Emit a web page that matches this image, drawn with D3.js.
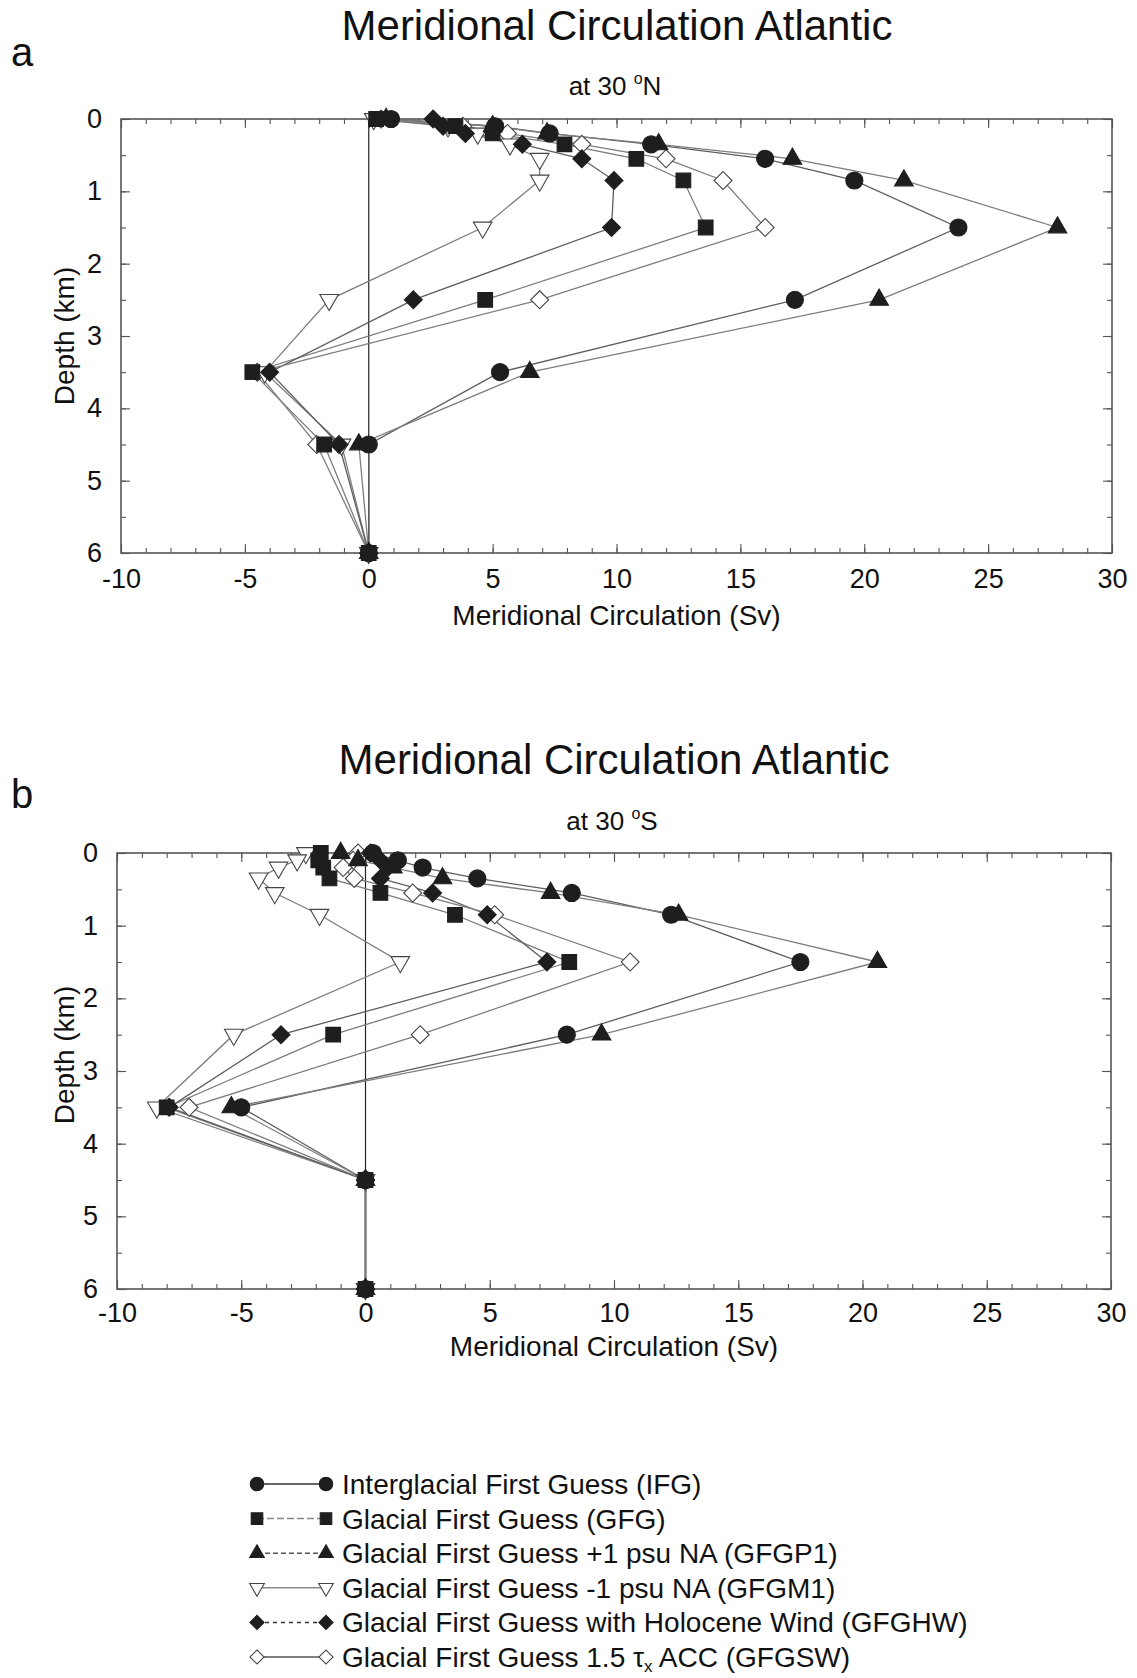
<!DOCTYPE html>
<html>
<head>
<meta charset="utf-8">
<title>Meridional Circulation Atlantic</title>
<script src="https://d3js.org/d3.v7.min.js"></script>
<style>
  body { margin: 0; background: #fff; }
  svg text { font-family: "Liberation Sans", Arial, Helvetica, sans-serif; fill: #111; }
</style>
</head>
<body>
<div id="chart"></div>
<script>

// depth levels (km), shared by every run
var depths = [0, 0.1, 0.2, 0.35, 0.55, 0.85, 1.5, 2.5, 3.5, 4.5, 6];

// runs in legend order
var runLabels = [
  "Interglacial First Guess (IFG)",
  "Glacial First Guess (GFG)",
  "Glacial First Guess +1 psu NA (GFGP1)",
  "Glacial First Guess -1 psu NA (GFGM1)",
  "Glacial First Guess with Holocene Wind (GFGHW)",
  "Glacial First Guess 1.5 \u03c4x ACC (GFGSW)"
];
var runKeys = ["IFG", "GFG", "GFGP1", "GFGM1", "GFGHW", "GFGSW"];

// at 30N (Sv)
var ifgN   = [0.9, 5.1, 7.3, 11.4, 16.0, 19.6, 23.8, 17.2, 5.3, 0.0, 0.0];
var gfgN   = [0.3, 3.5, 5.0, 7.9, 10.8, 12.7, 13.6, 4.7, -4.7, -1.8, 0.0];
var gfgp1N = [0.7, 5.0, 7.2, 11.7, 17.1, 21.6, 27.8, 20.6, 6.5, -0.4, 0.0];
var gfgm1N = [0.2, 3.2, 4.4, 5.7, 6.9, 6.9, 4.6, -1.6, -4.2, -1.1, 0.0];
var gfghwN = [2.6, 3.0, 3.9, 6.2, 8.6, 9.9, 9.8, 1.8, -4.0, -1.2, 0.0];
var gfgswN = [0.5, 3.8, 5.6, 8.6, 12.0, 14.3, 16.0, 6.9, -4.5, -2.1, 0.0];

// at 30S (Sv)
var ifgS   = [0.3, 1.3, 2.3, 4.5, 8.3, 12.3, 17.5, 8.1, -5.0, 0.0, 0.0];
var gfgS   = [-1.8, -1.9, -1.7, -1.45, 0.6, 3.6, 8.2, -1.3, -8.0, 0.0, 0.0];
var gfgp1S = [-1.0, -0.3, 1.1, 3.1, 7.45, 12.6, 20.6, 9.5, -5.4, 0.0, 0.0];
var gfgm1S = [-2.4, -2.75, -3.5, -4.3, -3.65, -1.85, 1.4, -5.3, -8.4, 0.0, 0.0];
var gfghwS = [0.2, 0.6, 0.9, 0.6, 2.7, 4.9, 7.3, -3.4, -7.9, 0.0, 0.0];
var gfgswS = [-0.3, -0.5, -0.9, -0.45, 1.9, 5.2, 10.65, 2.2, -7.1, 0.0, 0.0];

var xTicks = [-10, -5, 0, 5, 10, 15, 20, 25, 30];
var yTicks = [0, 1, 2, 3, 4, 5, 6];

var W = 1137, H = 1678;

var svg = d3.select("#chart")
  .append("svg")
    .attr("width", W)
    .attr("height", H);

// marker for each run
var symFilled = {IFG: true, GFG: true, GFGP1: true, GFGM1: false, GFGHW: true, GFGSW: false};
function symbolPath(key, scale) {
  var s = scale || 1;
  if (key == "IFG") return d3.symbol().type(d3.symbolCircle).size(230 * s)();
  if (key == "GFG") return d3.symbol().type(d3.symbolSquare).size(215 * s)();
  if (key == "GFGP1" || key == "GFGM1") return d3.symbol().type(d3.symbolTriangle).size(150 * s)();
  return d3.symbol().type(d3.symbolSquare).size(160 * s)();
}
function symbolRotate(key) {
  if (key == "GFGM1") return " rotate(180)";
  if (key == "GFGHW" || key == "GFGSW") return " rotate(45)";
  return "";
}
// open markers underneath, squares on top
var drawOrder = ["GFGSW", "GFGM1", "GFGHW", "GFGP1", "IFG", "GFG"];

function plainNum(d) { return String(d); }

function drawPanel(p) {
  var x = d3.scaleLinear().domain([-10, 30]).range([p.left, p.right]);
  var y = d3.scaleLinear().domain([0, 6]).range([p.top, p.bottom]);

  var g = svg.append("g");

  // titles
  g.append("text")
    .attr("x", p.titleX).attr("y", p.titleY)
    .attr("text-anchor", "middle")
    .style("font-size", "42px")
    .text("Meridional Circulation Atlantic");

  var sub = g.append("text")
    .attr("x", p.titleX - 2).attr("y", p.subY)
    .attr("text-anchor", "middle")
    .style("font-size", "26px");
  sub.append("tspan").text("at 30 ");
  sub.append("tspan").attr("dy", -11).style("font-size", "16px").text("o");
  sub.append("tspan").attr("dy", 11).text(p.hemi);

  g.append("text")
    .attr("x", 11).attr("y", p.letterY)
    .style("font-size", "40px")
    .text(p.letter);

  // minor ticks every 1 Sv / 0.5 km, all pointing inward
  g.append("g").attr("transform", "translate(0," + p.bottom + ")")
    .call(d3.axisBottom(x).tickValues(d3.range(-10, 31, 1)).tickSize(-5).tickFormat(""));
  g.append("g").attr("transform", "translate(0," + p.top + ")")
    .call(d3.axisTop(x).tickValues(d3.range(-10, 31, 1)).tickSize(-5).tickFormat(""));
  g.append("g").attr("transform", "translate(" + p.left + ",0)")
    .call(d3.axisLeft(y).tickValues(d3.range(0, 6.01, 0.5)).tickSize(-5).tickFormat(""));
  g.append("g").attr("transform", "translate(" + p.right + ",0)")
    .call(d3.axisRight(y).tickValues(d3.range(0, 6.01, 0.5)).tickSize(-5).tickFormat(""));

  // major ticks with labels
  g.append("g").attr("class", "xax").attr("transform", "translate(0," + p.bottom + ")")
    .call(d3.axisBottom(x).tickValues(xTicks).tickSize(-9).tickPadding(p.xPad).tickFormat(plainNum));
  g.append("g").attr("transform", "translate(0," + p.top + ")")
    .call(d3.axisTop(x).tickValues(xTicks).tickSize(-9).tickFormat(""));
  g.append("g").attr("class", "yax").attr("transform", "translate(" + p.left + ",0)")
    .call(d3.axisLeft(y).tickValues(yTicks).tickSize(-9).tickPadding(19).tickFormat(plainNum));
  g.append("g").attr("transform", "translate(" + p.right + ",0)")
    .call(d3.axisRight(y).tickValues(yTicks).tickSize(-9).tickFormat(""));

  g.selectAll(".domain").remove();
  g.selectAll(".tick line").attr("stroke", "#555").attr("stroke-width", 1.1);
  g.selectAll(".xax text, .yax text")
    .style("font-size", "27px")
    .attr("fill", "#111");

  // frame
  g.append("rect")
    .attr("x", p.left).attr("y", p.top)
    .attr("width", p.right - p.left).attr("height", p.bottom - p.top)
    .attr("fill", "none").attr("stroke", "#555").attr("stroke-width", 1.6);

  // axis titles
  g.append("text")
    .attr("x", (p.left + p.right) / 2).attr("y", p.xTitleY)
    .attr("text-anchor", "middle")
    .style("font-size", "28px")
    .text("Meridional Circulation (Sv)");
  g.append("text")
    .attr("transform", "translate(74," + p.yTitleMid + ") rotate(-90)")
    .attr("text-anchor", "middle")
    .style("font-size", "28px")
    .text("Depth (km)");

  // zero line
  g.append("line")
    .attr("x1", x(0)).attr("x2", x(0))
    .attr("y1", y(0)).attr("y2", y(6))
    .attr("stroke", "#222").attr("stroke-width", 1.2);

  var series = runKeys.map(function(k, i) {
    return {key: k, pts: depths.map(function(d, j) { return {d: d, v: p.values[i][j]}; })};
  });

  var line = d3.line()
    .x(function(d) { return x(d.v); })
    .y(function(d) { return y(d.d); });

  g.selectAll("path.run")
    .data(series)
    .enter()
    .append("path")
    .attr("class", "run")
    .attr("d", function(s) { return line(s.pts); })
    .attr("fill", "none")
    .attr("stroke", function(s) { return s.key == "GFGHW" || s.key == "IFG" ? "#5e5e5e" : "#7d7d7d"; })
    .attr("stroke-width", 1.3);

  drawOrder.forEach(function(k) {
    var s = series[runKeys.indexOf(k)];
    g.selectAll(null)
      .data(s.pts)
      .enter()
      .append("path")
      .attr("d", symbolPath(s.key))
      .attr("transform", function(d) { return "translate(" + x(d.v) + "," + y(d.d) + ")" + symbolRotate(s.key); })
      .attr("fill", symFilled[s.key] ? "#1e1e1e" : "#fff")
      .attr("stroke", symFilled[s.key] ? "#1e1e1e" : "#444")
      .attr("stroke-width", 1.1);
  });
}

drawPanel({
  letter: "a", hemi: "N",
  left: 121, right: 1112, top: 119, bottom: 553,
  titleX: 617, titleY: 40, subY: 95, letterY: 66,
  xPad: 16, xTitleY: 625, yTitleMid: 336,
  values: [ifgN, gfgN, gfgp1N, gfgm1N, gfghwN, gfgswN]
});

drawPanel({
  letter: "b", hemi: "S",
  left: 117, right: 1111, top: 853, bottom: 1289,
  titleX: 614, titleY: 774, subY: 830, letterY: 808,
  xPad: 14, xTitleY: 1356, yTitleMid: 1055,
  values: [ifgS, gfgS, gfgp1S, gfgm1S, gfghwS, gfgswS]
});

// legend
var legendDash = {IFG: null, GFG: "7,3", GFGP1: "5,3", GFGM1: null, GFGHW: "4,4", GFGSW: null};
var legendStroke = {IFG: "#333", GFG: "#888", GFGP1: "#555", GFGM1: "#888", GFGHW: "#333", GFGSW: "#555"};

var legend = svg.append("g");
runKeys.forEach(function(k, i) {
  var ly = 1484 + i * 34.6;
  legend.append("line")
    .attr("x1", 257).attr("x2", 326)
    .attr("y1", ly).attr("y2", ly)
    .attr("stroke", legendStroke[k])
    .attr("stroke-width", 1.5)
    .attr("stroke-dasharray", legendDash[k]);
  [257, 326].forEach(function(lx) {
    legend.append("path")
      .attr("d", symbolPath(k, 0.62))
      .attr("transform", "translate(" + lx + "," + ly + ")" + symbolRotate(k))
      .attr("fill", symFilled[k] ? "#1e1e1e" : "#fff")
      .attr("stroke", symFilled[k] ? "#1e1e1e" : "#444")
      .attr("stroke-width", 1.1);
  });
  var t = legend.append("text")
    .attr("x", 342).attr("y", ly + 10)
    .style("font-size", "28px");
  if (k == "GFGSW") {
    t.append("tspan").text("Glacial First Guess 1.5 \u03c4");
    t.append("tspan").attr("dy", 5).style("font-size", "17px").text("x");
    t.append("tspan").attr("dy", -5).text(" ACC (GFGSW)");
  } else {
    t.text(runLabels[i]);
  }
});

</script>
</body>
</html>
